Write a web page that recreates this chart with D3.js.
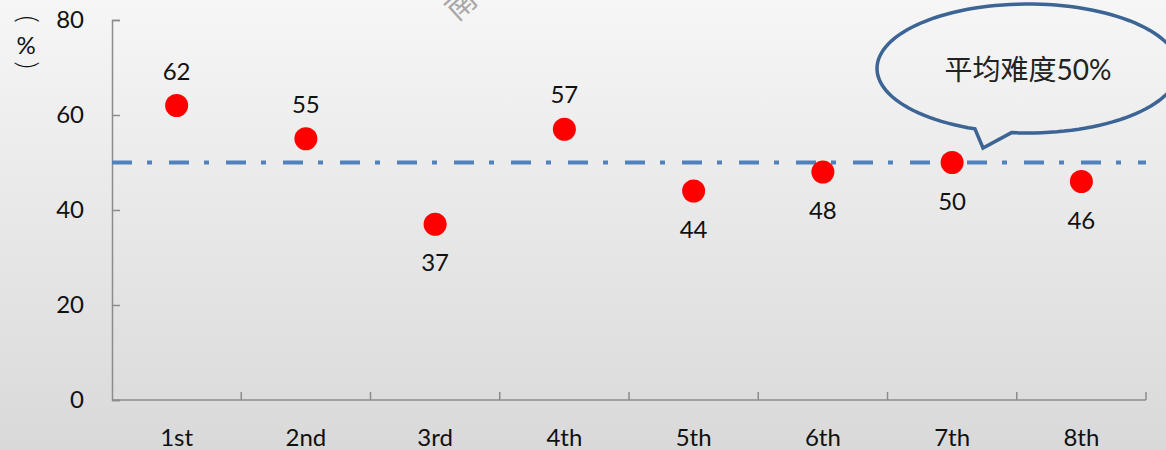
<!DOCTYPE html>
<html>
<head>
<meta charset="utf-8">
<script src="https://cdn.jsdelivr.net/npm/d3@7"></script>
<style>
  html, body { margin: 0; padding: 0; background: #eee; }
  #chart { width: 1166px; height: 450px; overflow: hidden; }
  text { font-family: Lato, "Noto Sans CJK SC", sans-serif; }
</style>
</head>
<body>
<div id="chart"></div>
<script>
// data
const rounds = ["1st", "2nd", "3rd", "4th", "5th", "6th", "7th", "8th"];
const difficulty = [62, 55, 37, 57, 44, 48, 50, 46];
const average = 50;
const yTicks = [0, 20, 40, 60, 80];
const calloutText = "平均难度50%";

const width = 1166, height = 450;
const margin = { top: 20, right: 20, bottom: 50, left: 112 };

const svg = d3.select("#chart")
    .append("svg")
    .attr("width", width)
    .attr("height", height);

// background gradient
const defs = svg.append("defs");
const grad = defs.append("linearGradient")
    .attr("id", "bg")
    .attr("x1", 0).attr("y1", 0).attr("x2", 0).attr("y2", 1);
grad.append("stop").attr("offset", "0%").attr("stop-color", "#f6f6f6");
grad.append("stop").attr("offset", "100%").attr("stop-color", "#d9d9d9");
svg.append("rect")
    .attr("width", width).attr("height", height)
    .attr("fill", "url(#bg)");

// faint watermark cut by the top edge
svg.append("text")
    .attr("transform", "translate(468,12) rotate(-42)")
    .attr("font-size", 30)
    .attr("fill", "#a8a8a8")
    .attr("text-anchor", "middle")
    .text("南");

// scales
const xScale = d3.scaleBand()
    .domain(rounds)
    .range([margin.left, width - margin.right])
    .padding(0);

const yScale = d3.scaleLinear()
    .domain([0, 80])
    .range([height - margin.bottom, margin.top]);

const axisColor = "#8c8c8c";

// y axis, ticks pointing into the plot
const yAxis = svg.append("g")
    .attr("transform", `translate(${margin.left},0)`)
    .call(d3.axisLeft(yScale).tickValues(yTicks).tickSize(-8).tickPadding(28));
yAxis.select(".domain").attr("stroke", axisColor).attr("stroke-width", 1.5);
yAxis.selectAll(".tick line").attr("stroke", axisColor).attr("stroke-width", 1.5);
yAxis.selectAll(".tick text")
    .attr("font-size", 24)
    .attr("fill", "#111")
    .attr("font-family", "Lato, sans-serif");

// x axis: ticks on the band boundaries, pointing up
const xAxisG = svg.append("g")
    .attr("transform", `translate(0,${yScale(0)})`);
xAxisG.append("line")
    .attr("x1", margin.left).attr("x2", width - margin.right)
    .attr("stroke", axisColor).attr("stroke-width", 1.5);
xAxisG.selectAll(".bound")
    .data(rounds.slice(1))
    .enter().append("line")
    .attr("x1", d => xScale(d)).attr("x2", d => xScale(d))
    .attr("y1", 0).attr("y2", -8)
    .attr("stroke", axisColor).attr("stroke-width", 1.5);
xAxisG.append("line")
    .attr("x1", width - margin.right).attr("x2", width - margin.right)
    .attr("y1", 0).attr("y2", -8)
    .attr("stroke", axisColor).attr("stroke-width", 1.5);
xAxisG.selectAll(".lbl")
    .data(rounds)
    .enter().append("text")
    .attr("x", d => xScale(d) + xScale.bandwidth() / 2)
    .attr("y", 46)
    .attr("text-anchor", "middle")
    .attr("font-size", 24)
    .attr("fill", "#111")
    .text(d => d);

// y axis unit "(%)" stacked vertically, brackets turned sideways
const unit = svg.append("g").attr("fill", "#111")
    .attr("font-family", "Lato, sans-serif")
    .attr("text-anchor", "middle");
unit.append("text").attr("transform", "translate(26,19) rotate(90)")
    .attr("font-size", 28).attr("font-weight", 300)
    .attr("dy", "0.28em").text("(");
unit.append("text").attr("x", 26).attr("y", 54).attr("font-size", 24).text("%");
unit.append("text").attr("transform", "translate(26,65) rotate(90)")
    .attr("font-size", 28).attr("font-weight", 300)
    .attr("dy", "0.28em").text(")");

// average line
svg.append("line")
    .attr("x1", margin.left)
    .attr("x2", width - margin.right)
    .attr("y1", yScale(average))
    .attr("y2", yScale(average))
    .attr("stroke", "#4f81bd")
    .attr("stroke-width", 4)
    .attr("stroke-dasharray", "20,15,5,17");

// points
const cx = d => xScale(d) + xScale.bandwidth() / 2;
svg.selectAll("circle.pt")
    .data(rounds)
    .enter().append("circle")
    .attr("class", "pt")
    .attr("cx", d => cx(d))
    .attr("cy", (d, i) => yScale(difficulty[i]))
    .attr("r", 11.5)
    .attr("fill", "#ff0000");

// value labels: above when over the average, below otherwise
svg.selectAll("text.val")
    .data(rounds)
    .enter().append("text")
    .attr("class", "val")
    .attr("x", d => cx(d))
    .attr("y", (d, i) => yScale(difficulty[i]) + (difficulty[i] > average ? -26 : 47))
    .attr("text-anchor", "middle")
    .attr("font-size", 24)
    .attr("fill", "#111")
    .text((d, i) => difficulty[i]);

// speech bubble callout
const bx = 1028, by = 68.5, rx = 151, ry = 64.5;
const tailA = 1.93, tailB = 1.68; // angles where the tail leaves the ellipse
const bx2 = bx + rx * Math.cos(tailB), by2 = by + ry * Math.sin(tailB);
const bubble = d3.path();
bubble.moveTo(bx2, by2);
// go around the ellipse the long way, from B back to A
const steps = 120;
for (let s = 1; s <= steps; s++) {
    const t = tailB - (2 * Math.PI - (tailA - tailB)) * s / steps;
    bubble.lineTo(bx + rx * Math.cos(t), by + ry * Math.sin(t));
}
bubble.lineTo(983, 148);
bubble.closePath();
svg.append("path")
    .attr("d", bubble.toString())
    .attr("fill", "none")
    .attr("stroke", "#3c6494")
    .attr("stroke-width", 3.5)
    .attr("stroke-linejoin", "miter");

svg.append("text")
    .attr("x", bx)
    .attr("y", 80)
    .attr("text-anchor", "middle")
    .attr("font-size", 28)
    .attr("fill", "#222")
    .attr("font-family", "'Noto Sans CJK SC', sans-serif")
    .text(calloutText);
</script>
</body>
</html>
